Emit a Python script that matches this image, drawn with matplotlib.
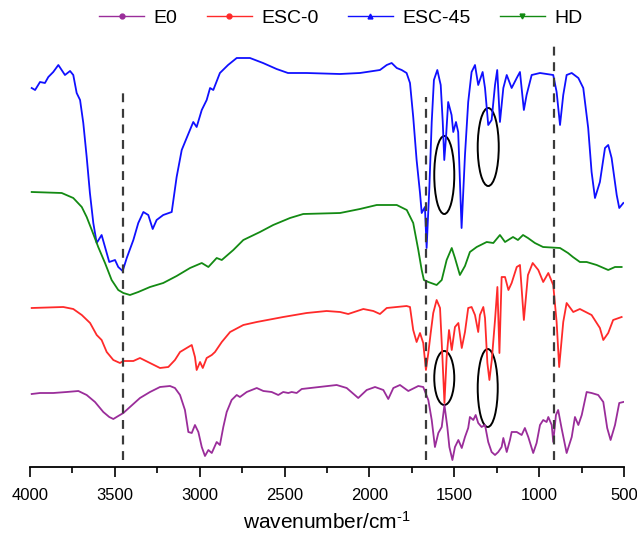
import matplotlib
matplotlib.use("Agg")
import matplotlib.pyplot as plt
from matplotlib.patches import Ellipse
from matplotlib.lines import Line2D

plt.rcParams['font.family'] = ['Liberation Sans', 'DejaVu Sans']
plt.rcParams['mathtext.fontset'] = 'custom'
plt.rcParams['mathtext.rm'] = 'Liberation Sans'
plt.rcParams['mathtext.it'] = 'Liberation Sans'

# ---------------- data (wavenumber in cm-1, offset transmittance in a.u.) ----------------
esc45_w = [3990, 3970, 3941, 3912, 3892, 3863, 3833, 3794, 3764, 3745, 3725, 3705, 3686, 3666, 3647, 3627,
           3607, 3578, 3558, 3533, 3499, 3480, 3454, 3430, 3391, 3362, 3332, 3303, 3277, 3254, 3215, 3165,
           3136, 3106, 3077, 3038, 3018, 2988, 2959, 2939, 2920, 2881, 2833, 2782, 2704, 2627, 2547, 2480,
           2370, 2174, 2056, 1938, 1898, 1869, 1839, 1810, 1781, 1761, 1742, 1722, 1702, 1692, 1673, 1663,
           1647, 1633, 1620, 1600, 1580, 1568, 1559, 1549, 1536, 1516, 1506, 1490, 1477, 1457, 1437, 1418,
           1398, 1378, 1359, 1333, 1319, 1300, 1280, 1260, 1247, 1231, 1211, 1191, 1162, 1132, 1113, 1090,
           1074, 1044, 995, 917, 897, 877, 858, 838, 808, 769, 740, 711, 691, 671, 642, 612, 593, 573, 543,
           528, 504]
esc45_t = [379, 377, 385, 384, 390, 395, 402, 392, 396, 392, 374, 367, 344, 310, 274, 244,
           224, 232, 220, 205, 207, 200, 196, 209, 227, 244, 255, 252, 238, 247, 252, 255,
           290, 317, 329, 345, 340, 357, 367, 379, 377, 394, 402, 409, 409, 404, 398, 394,
           394, 393, 394, 397, 402, 404, 399, 397, 394, 384, 350, 307, 274, 254, 260, 219,
           279, 345, 387, 397, 382, 345, 307, 329, 365, 352, 335, 345, 335, 239, 312, 365,
           395, 402, 382, 395, 379, 342, 347, 382, 397, 345, 379, 392, 379, 389, 395, 357,
           372, 392, 394, 392, 375, 342, 372, 392, 394, 389, 379, 339, 295, 269, 285, 319, 322, 309, 272,
           259, 264]

hd_w = [3990, 3813, 3745, 3695, 3666, 3636, 3598, 3558, 3519, 3480, 3450, 3411, 3362, 3293, 3215, 3136,
        3057, 2988, 2949, 2900, 2870, 2802, 2743, 2645, 2567, 2468, 2390, 2173, 2056, 1957, 1839, 1780,
        1742, 1712, 1692, 1679, 1653, 1604, 1574, 1545, 1515, 1496, 1467, 1437, 1408, 1368, 1309, 1270,
        1231, 1201, 1154, 1125, 1095, 1066, 1025, 977, 877, 830, 801, 760, 720, 661, 593, 553, 514]
hd_t = [275, 274, 269, 260, 250, 237, 220, 204, 187, 177, 174, 172, 175, 180, 184, 191,
        199, 204, 200, 209, 207, 217, 227, 235, 242, 249, 253, 254, 258, 262, 262, 257,
        244, 217, 197, 187, 185, 182, 187, 207, 219, 209, 192, 201, 215, 220, 225, 224,
        232, 225, 230, 227, 232, 229, 224, 220, 219, 214, 210, 205, 205, 202, 197, 200, 200]

esc0_w = [3990, 3804, 3745, 3695, 3646, 3607, 3578, 3548, 3509, 3470, 3450, 3391, 3352, 3293, 3234, 3185,
          3146, 3116, 3067, 3047, 3028, 3018, 2998, 2982, 2959, 2929, 2910, 2870, 2821, 2743, 2664, 2508,
          2370, 2252, 2173, 2125, 2036, 1977, 1938, 1898, 1781, 1761, 1742, 1722, 1702, 1683, 1667, 1653,
          1639, 1624, 1604, 1584, 1570, 1558, 1545, 1531, 1515, 1496, 1476, 1456, 1437, 1418, 1398, 1378,
          1359, 1349, 1329, 1319, 1305, 1293, 1279, 1260, 1246, 1234, 1221, 1201, 1181, 1162, 1132, 1113,
          1090, 1066, 1038, 1005, 976, 946, 917, 897, 882, 858, 838, 799, 760, 691, 642, 622, 593, 564, 514]
esc0_t = [159, 160, 158, 152, 144, 132, 127, 115, 107, 104, 106, 106, 109, 104, 99, 100,
          107, 115, 120, 122, 110, 97, 105, 99, 109, 112, 115, 125, 135, 142, 145, 150,
          154, 156, 155, 153, 158, 156, 153, 159, 161, 160, 137, 125, 134, 124, 97, 114,
          134, 154, 167, 159, 110, 64, 110, 137, 117, 140, 144, 119, 135, 159, 160, 152,
          135, 152, 160, 149, 104, 87, 107, 147, 180, 114, 190, 190, 177, 184, 200, 202,
          147, 192, 204, 197, 185, 194, 182, 145, 100, 145, 164, 155, 158, 152, 139, 127, 134, 147, 150]

e0_w = [3990, 3941, 3863, 3784, 3715, 3666, 3617, 3568, 3533, 3509, 3480, 3450, 3411, 3352, 3293, 3234,
        3175, 3146, 3116, 3087, 3067, 3047, 3028, 3008, 2988, 2969, 2949, 2929, 2900, 2881, 2861, 2841,
        2812, 2782, 2763, 2723, 2664, 2625, 2576, 2537, 2508, 2478, 2458, 2429, 2399, 2193, 2134, 2066,
        2016, 1967, 1918, 1889, 1859, 1820, 1771, 1712, 1683, 1653, 1633, 1614, 1594, 1574, 1558, 1541,
        1529, 1511, 1496, 1476, 1456, 1437, 1418, 1408, 1388, 1374, 1359, 1339, 1319, 1300, 1280, 1260,
        1241, 1221, 1211, 1191, 1172, 1162, 1132, 1103, 1084, 1064, 1035, 1015, 995, 976, 956, 946,
        926, 917, 901, 888, 868, 838, 808, 789, 769, 749, 720, 691, 652, 622, 599, 579, 553, 528, 504]
e0_t = [73, 74, 74, 75, 76, 72, 65, 55, 50, 48, 51, 54, 60, 69, 75, 80,
        81, 79, 72, 57, 35, 34, 42, 35, 20, 11, 17, 14, 25, 22, 40, 55,
        67, 72, 70, 75, 79, 76, 75, 72, 75, 74, 75, 74, 78, 82, 79, 69,
        77, 80, 77, 68, 79, 82, 76, 81, 80, 67, 47, 20, 34, 40, 62, 40,
        20, 7, 20, 27, 19, 30, 39, 50, 47, 52, 44, 40, 42, 25, 15, 12,
        15, 20, 29, 15, 27, 35, 35, 32, 39, 30, 14, 24, 42, 47, 45, 50,
        42, 25, 52, 57, 39, 14, 30, 50, 42, 52, 75, 74, 72, 65, 39, 27, 42, 64, 65]

series_names = ['E0', 'ESC-0', 'ESC-45', 'HD']
series_colors = ['#9a2d9a', '#ff2a2a', '#1010ff', '#138a13']
series_markers = ['o', 'o', '^', 'v']

# reference dashed lines: (wavenumber, top of line)
ref_lines_w = [3454, 1667, 911]
ref_lines_top = [379, 370, 422]

# highlighted bands (ellipses): centre wavenumber, centre level, width (cm-1), height
ellipse_w = [1559, 1300, 1559, 1303]
ellipse_t = [292, 320, 89, 79]
ellipse_dw = [118, 124, 118, 118]
ellipse_dt = [78, 78, 54, 78]

tick_values = [4000, 3500, 3000, 2500, 2000, 1500, 1000, 500]

# ---------------- figure ----------------
W, H = 637, 539
fig = plt.figure(figsize=(W / 100, H / 100), dpi=100)
ax = fig.add_axes([30 / W, 72 / H, 594 / W, 427 / H])

xs = [e0_w, esc0_w, esc45_w, hd_w]
ys = [e0_t, esc0_t, esc45_t, hd_t]
for x, y, c in zip(xs, ys, series_colors):
    ax.plot(x, y, color=c, lw=1.3, solid_joinstyle='round')

for w, top in zip(ref_lines_w, ref_lines_top):
    ax.plot([w, w], [7, top], color='#3a3a3a', lw=1.6, linestyle=(0, (4, 3)), clip_on=False)

for cw, ct, dw, dt in zip(ellipse_w, ellipse_t, ellipse_dw, ellipse_dt):
    ax.add_patch(Ellipse((cw, ct), dw, dt, fill=False, edgecolor='black', lw=1.4))

ax.set_xlim(4000, 500)
ax.set_ylim(0, 427)
for s in ['left', 'right', 'top']:
    ax.spines[s].set_visible(False)
ax.spines['bottom'].set_linewidth(1.3)
ax.set_yticks([])
ax.set_xticks(tick_values)
ax.set_xticks([v + 250 for v in tick_values[1:]], minor=True)
ax.tick_params(axis='x', which='major', direction='out', length=7, width=1.2, labelsize=12, pad=8)
ax.tick_params(axis='x', which='minor', direction='out', length=4, width=1.2)
ax.set_xlabel('wavenumber/cm$^{\\text{-}1}$', fontsize=15, labelpad=6)

handles = [Line2D([], [], color=c, lw=1.0, marker=m, markersize=3.5) for c, m in zip(series_colors, series_markers)]
fig.legend(handles, series_names, loc='center', bbox_to_anchor=(341 / W, 1 - 18 / H), ncol=4,
           frameon=False, fontsize=14, handlelength=2.3, handletextpad=0.5, columnspacing=1.5)

fig.savefig('out.png', dpi=100)
